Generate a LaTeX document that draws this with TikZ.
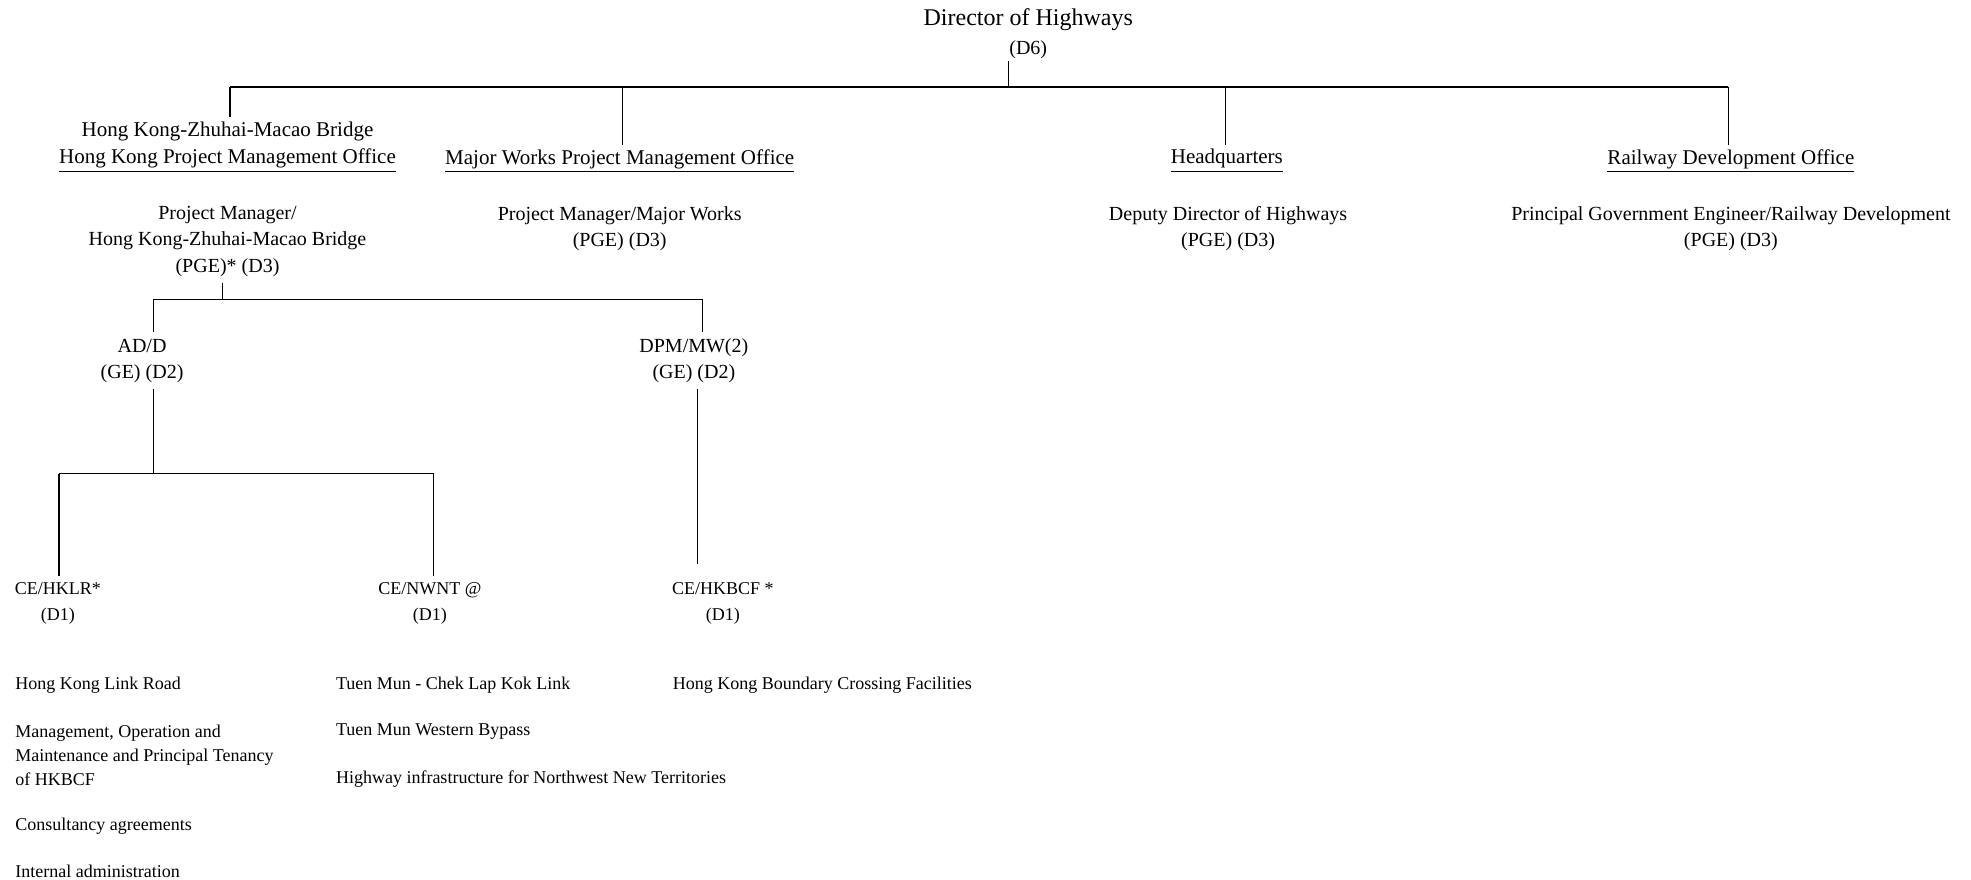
\documentclass[tikz,border=0pt]{standalone}
\usepackage{fontspec}
\setmainfont{Liberation Serif}
\usetikzlibrary{positioning}

\begin{document}
\begin{tikzpicture}[x=0.6285pt, y=-0.6285pt]
    \tikzset{
        head/.style = {align=center, inner sep=1pt, font=\fontsize{10}{14.5}\selectfont},
        office/.style = {align=center, inner sep=2pt, font=\fontsize{10.5}{13.8}\selectfont},
        post/.style = {align=center, inner sep=3pt, font=\fontsize{10}{13.2}\selectfont},
        chief/.style = {align=center, inner sep=3pt, font=\fontsize{9}{12.6}\selectfont},
        duty/.style = {anchor=west, align=left, inner sep=0pt, font=\fontsize{9}{11.9}\selectfont},
        line/.style = {draw=black, line width=0.6pt}
    }
    \useasboundingbox (0,0) rectangle (1568,700);

    \node[head](dir) at (818,27) {{\fontsize{12}{14.5}\selectfont Director of Highways}\\(D6)};

    \node[office](off_1) at (181,117) {Hong Kong-Zhuhai-Macao Bridge\\\underline{Hong Kong Project Management Office}};
    \node[office](off_2) at (493,128) {\underline{Major Works Project Management Office}};
    \node[office](off_3) at (976,128) {\underline{Headquarters}};
    \node[office](off_4) at (1377,128) {\underline{Railway Development Office}};

    \node[post](pm_1) at (181,192) {Project Manager/\\Hong Kong-Zhuhai-Macao Bridge\\(PGE)* (D3)};
    \node[post](pm_2) at (493,182) {Project Manager/Major Works\\(PGE) (D3)};
    \node[post](pm_3) at (977,182) {Deputy Director of Highways\\(PGE) (D3)};
    \node[post](pm_4) at (1377,182) {Principal Government Engineer/Railway Development\\(PGE) (D3)};

    \node[post](ad_1) at (113,287) {AD/D\\(GE) (D2)};
    \node[post](ad_2) at (552,287) {DPM/MW(2)\\(GE) (D2)};

    \node[chief](ce_1) at (46,480) {CE/HKLR*\\(D1)};
    \node[chief](ce_2) at (342,480) {CE/NWNT @\\(D1)};
    \node[chief](ce_3) at (575,480) {CE/HKBCF *\\(D1)};

    \node[duty](du_1) at (12,545) {Hong Kong Link Road};
    \node[duty](du_2) at (12,601) {Management, Operation and\\Maintenance and Principal Tenancy\\of HKBCF};
    \node[duty](du_3) at (12,657) {Consultancy agreements};
    \node[duty](du_4) at (12,693) {Internal administration};
    \node[duty](du_5) at (267,545) {Tuen Mun - Chek Lap Kok Link};
    \node[duty](du_6) at (267,582) {Tuen Mun Western Bypass};
    \node[duty](du_7) at (267,620) {Highway infrastructure for Northwest New Territories};
    \node[duty](du_8) at (535,545) {Hong Kong Boundary Crossing Facilities};

    % director to offices
    \coordinate (b_0) at (802,69);
    \coordinate (b_1) at (183,69);
    \coordinate (b_2) at (495,69);
    \coordinate (b_3) at (975,69);
    \coordinate (b_4) at (1375,69);
    \path [line] (b_0 |- dir.south) -- (b_0);
    \path [line, line width=0.8pt] (b_1) -- (b_4);
    \path [line] (b_1) -- (b_1 |- off_1.north);
    \path [line] (b_2) -- (b_2 |- off_2.north);
    \path [line] (b_3) -- (b_3 |- off_3.north);
    \path [line] (b_4) -- (b_4 |- off_4.north);

    % project manager to deputies
    \coordinate (j_0) at (177,238);
    \coordinate (j_1) at (122,238);
    \coordinate (j_2) at (559,238);
    \path [line] (j_0 |- pm_1.south) -- (j_0);
    \path [line] (j_1) -- (j_2);
    \path [line] (j_1) -- (j_1 |- ad_1.north);
    \path [line] (j_2) -- (j_2 |- ad_2.north);

    % deputies to chief engineers
    \coordinate (k_0) at (122,377);
    \coordinate (k_1) at (47,377);
    \coordinate (k_2) at (345,377);
    \coordinate (m_0) at (555,449);
    \path [line] (k_0 |- ad_1.south) -- (k_0);
    \path [line] (k_1) -- (k_2);
    \path [line] (k_1) -- (k_1 |- ce_1.north);
    \path [line] (k_2) -- (k_2 |- ce_2.north);
    \path [line] (m_0 |- ad_2.south) -- (m_0);

\end{tikzpicture}
\end{document}
